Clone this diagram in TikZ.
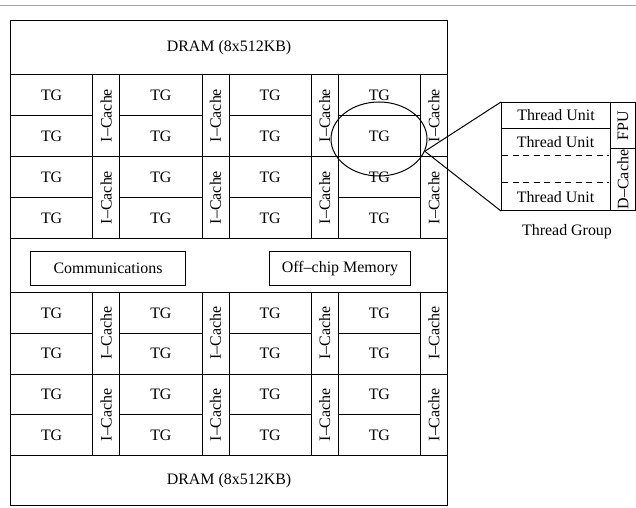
\documentclass[tikz,border=0pt]{standalone}
\usepackage{fontspec}
\usepackage{graphicx}
\setmainfont{Liberation Serif}
\usetikzlibrary{shapes.geometric}
\begin{document}
\begin{tikzpicture}[x=1bp,y=-1bp, line width=1bp,
  lbl/.style={font=\fontsize{16}{19}\selectfont},
  box/.style={draw, rectangle, inner sep=0pt, anchor=north west, lbl},
  tgcell/.style={box, minimum width=82.25bp},
  iccell/.style={box, minimum width=27bp},
  sidecell/.style={box, minimum width=25bp},
  dashline/.style={dash pattern=on 6bp off 4.5bp}]
\useasboundingbox (0,0) rectangle (636,508);

% top rule
\coordinate (rl) at (0,5);
\coordinate (rr) at (636,5);
\draw[gray!70, line width=0.8bp] (rl) -- (rr);

% outer frame
\node[box, minimum width=437bp, minimum height=485bp] (outer) at (10,20) {};
\node[box, minimum width=437bp, minimum height=54bp] (dramtop) at (10,20) {DRAM (8x512KB)};
\node[box, minimum width=437bp, minimum height=50bp] (drambot) at (10,455) {DRAM (8x512KB)};

% TG / I-Cache blocks
\foreach \b/\yo/\h in {t/74/41, b/292/40.75} {
  \pgfmathsetmacro\hh{2*\h}
  \foreach \c in {0,1,2,3} {
    \pgfmathsetmacro\xo{10+109.25*\c}
    \pgfmathsetmacro\xi{\xo+82.25}
    \foreach \r in {0,1,2,3} {
      \pgfmathsetmacro\yr{\yo+\h*\r}
      \node[tgcell, minimum height=\h bp] (tg-\b-\c-\r) at (\xo,\yr) {TG};
    }
    \foreach \p in {0,1} {
      \pgfmathsetmacro\yp{\yo+\hh*\p}
      \node[iccell, minimum height=\hh bp] (ic-\b-\c-\p) at (\xi,\yp) {\rotatebox{90}{I–Cache}};
    }
  }
}

% middle boxes
\node[box, minimum width=155bp, minimum height=34bp] (comm) at (30,251) {Communications};
\node[box, minimum width=141bp, minimum height=34bp] (offchip) at (269,251) {Off–chip Memory};

% ellipse highlight
\node[draw, ellipse, inner sep=0pt, minimum width=96bp, minimum height=74bp] (ell) at (379,139) {};

% thread group detail
\node[box, minimum width=134bp, minimum height=108bp] (tgb) at (501,102) {};
\node[box, minimum width=109bp, minimum height=26bp] (tu1) at (501,102) {Thread Unit};
\node[lbl] (tu2) at (555.5,142) {Thread Unit};
\node[lbl] (tu3) at (555.5,197) {Thread Unit};
\node[sidecell, minimum height=46bp] (fpu) at (610,102) {\rotatebox{90}{FPU}};
\node[sidecell, minimum height=62bp] (dcache) at (610,148) {\rotatebox{90}{D–Cache}};
\coordinate (d1a) at (502,156);
\coordinate (d1b) at (609,156);
\coordinate (d2a) at (502,183);
\coordinate (d2b) at (609,183);
\draw[dashline] (d1a) -- (d1b);
\draw[dashline] (d2a) -- (d2b);
\node[lbl] (tglabel) at (567,232) {Thread Group};

% connectors from ellipse to detail box
\draw (ell.-15) -- (tgb.north west);
\draw (ell.-15) -- (tgb.south west);
\end{tikzpicture}
\end{document}
